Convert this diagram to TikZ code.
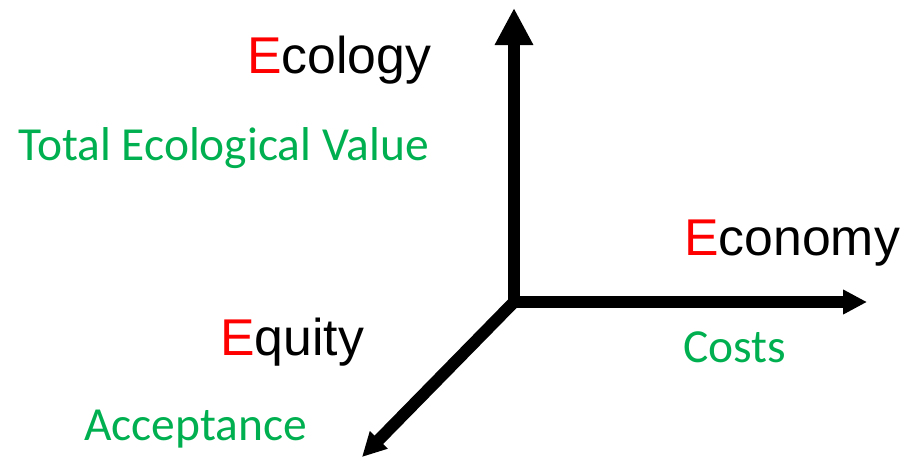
\documentclass[tikz,border=0pt]{standalone}
\usepackage{fontspec}
\setmainfont{Liberation Sans}
\newfontfamily\calibri{Carlito}
\usetikzlibrary{arrows.meta}
\definecolor{eered}{HTML}{FF0000}
\definecolor{eegreen}{HTML}{00B050}
\newcommand{\redE}{\textcolor{eered}{E}}
\begin{document}
\begin{tikzpicture}[x=0.75pt,y=-0.75pt,
  eixo/.style={line width=9pt},
  titulo/.style={anchor=base west, inner sep=0pt, font=\fontsize{38.8pt}{46pt}\selectfont},
  medida/.style={anchor=base west, inner sep=0pt, text=eegreen, font=\calibri\fontsize{35.6pt}{42pt}\selectfont}]
  \useasboundingbox (0,0) rectangle (918,458);

  % Origem e pontas dos três eixos.
  \coordinate (origem) at (514,302);
  \coordinate (ecologia) at (514,8);
  \coordinate (economia) at (867,302);
  \coordinate (equidade) at (362,457);

  % Eixos com setas triangulares.
  \draw[eixo, -{Triangle[length=27.75pt,width=27pt]}] (origem) -- (ecologia);
  \draw[eixo, -{Triangle[length=18pt,width=17.5pt]}] (origem) -- (economia);
  \draw[eixo, -{Triangle[length=18pt,width=17.5pt]}] (origem) -- (equidade);

  % Nomes dos eixos e as respectivas medidas.
  \node[titulo] (nEcology) at (247,73) {\redE cology};
  \node[medida] (mEcology) at (18,160) {Total Ecological Value};
  \node[titulo] (nEconomy) at (684,255) {\redE conomy};
  \node[medida] (mEconomy) at (683,362) {Costs};
  \node[titulo] (nEquity) at (220,355) {\redE quity};
  \node[medida] (mEquity) at (84,440) {Acceptance};
\end{tikzpicture}
\end{document}
